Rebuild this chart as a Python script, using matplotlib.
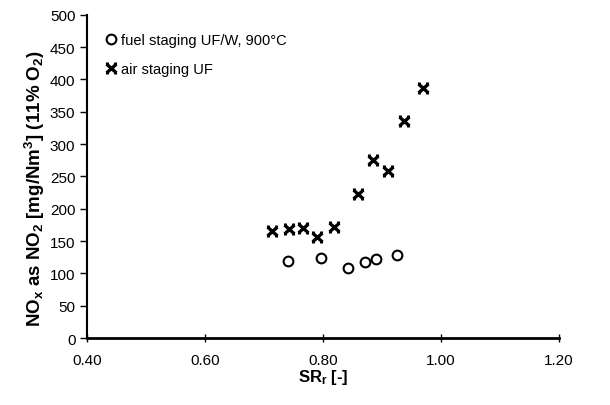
import numpy as np
import matplotlib
matplotlib.use("Agg")
from matplotlib import pyplot as plt
from matplotlib.path import Path

plt.rcParams['font.family'] = ['Liberation Sans', 'DejaVu Sans']
plt.rcParams['mathtext.default'] = 'regular'

# data
sr_fuel = [0.741, 0.796, 0.843, 0.871, 0.890, 0.926]
nox_fuel = [119, 124, 108, 118, 122, 128]

sr_air = [0.713, 0.743, 0.766, 0.790, 0.819, 0.859, 0.884, 0.910, 0.938, 0.969]
nox_air = [165, 169, 170, 157, 171, 223, 275, 258, 336, 387]

x_ticks = [0.40, 0.60, 0.80, 1.00, 1.20]
y_ticks = [0, 50, 100, 150, 200, 250, 300, 350, 400, 450, 500]

# X with short bars top and bottom (excel style)
verts = [(-1, -0.9), (1, 0.9), (-1, 0.9), (1, -0.9),
         (-1.15, 0.9), (-0.55, 0.9), (0.55, 0.9), (1.15, 0.9),
         (-1.15, -0.9), (-0.55, -0.9), (0.55, -0.9), (1.15, -0.9)]
codes = [Path.MOVETO, Path.LINETO] * 6
bar_x = Path(verts, codes)

fig = plt.figure(figsize=(6.1, 4.06), dpi=100)
ax = fig.add_axes([0.143, 0.165, 0.773, 0.796])

ax.plot(sr_fuel, nox_fuel, linestyle='none', marker='o', markersize=7,
        markerfacecolor='none', markeredgecolor='black', markeredgewidth=1.5,
        label='fuel staging UF/W, 900°C')
ax.plot(sr_air, nox_air, linestyle='none', marker=bar_x, markersize=8,
        markerfacecolor='none', markeredgecolor='black', markeredgewidth=2.4,
        label='air staging UF')

ax.set_xlim(0.40, 1.20)
ax.set_ylim(0, 500)
ax.set_xticks(x_ticks)
ax.set_xticklabels(['%.2f' % t for t in x_ticks])
ax.set_yticks(y_ticks)

for side in ['top', 'right']:
    ax.spines[side].set_visible(False)
ax.spines['left'].set_linewidth(1.5)
ax.spines['bottom'].set_linewidth(2)
ax.tick_params(axis='y', direction='out', length=5, width=1, labelsize=11)
ax.tick_params(axis='x', direction='inout', length=6, width=1, labelsize=11, pad=8)

ax.set_xlabel('SR$_r$ [-]', fontsize=12, fontweight='bold', labelpad=0)
ax.set_ylabel('NO$_x$ as NO$_2$ [mg/Nm$^3$] (11% O$_2$)', fontsize=13.5,
              fontweight='bold')
ax.yaxis.set_label_coords(-0.085, 0.465)

ax.legend(loc='upper left', bbox_to_anchor=(0.02, 0.97), frameon=False,
          fontsize=10.5, handlelength=0.8, handletextpad=0.3, labelspacing=1.0,
          borderaxespad=0.2)

fig.savefig('out.png', dpi=100)
